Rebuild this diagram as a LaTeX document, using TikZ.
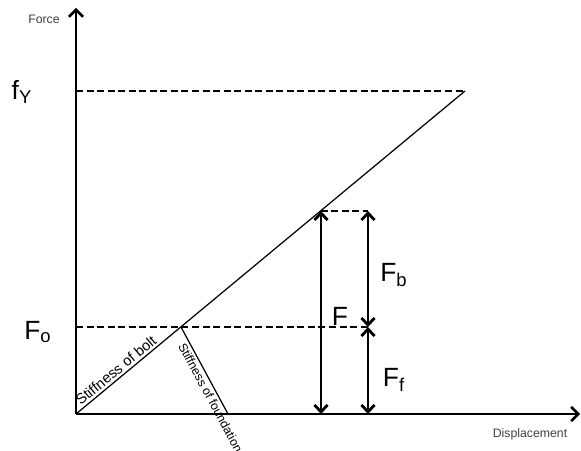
\documentclass[tikz,border=0pt]{standalone}
\usepackage{fontspec}
\setmainfont{Liberation Sans}
\usepackage{tikz}
\usetikzlibrary{arrows.meta, positioning, calc}

\tikzset{
  axisline/.style={line width=1.5pt, -{Straight Barb[length=4pt,width=8pt,line width=1.5pt]}},
  forcearrow/.style={line width=1.6pt, {Straight Barb[length=4pt,width=7.5pt,line width=1.6pt]}-{Straight Barb[length=4pt,width=7.5pt,line width=1.6pt]}},
  guide/.style={line width=0.6pt, dash pattern=on 4pt off 2pt},
  stiff/.style={line width=0.7pt},
  biglabel/.style={font=\fontsize{15}{17}\selectfont, inner sep=0pt},
  smalllabel/.style={font=\fontsize{7}{8}\selectfont, text=black!75, inner sep=0pt}
}

\begin{document}
\begin{tikzpicture}[x=0.02cm, y=0.02cm]
  % frame = 581 x 450 px
  \useasboundingbox (0,0) rectangle (581,450);
  % key points (px, measured from bottom left)
  \coordinate (O) at (76,36);
  \coordinate (ytop) at (76,442);
  \coordinate (xend) at (580,36);
  \coordinate (yield) at (465,359);
  \coordinate (fyaxis) at (76,359);
  \coordinate (knee) at (181,123);
  \coordinate (foaxis) at (76,123);
  \coordinate (footend) at (228,36);
  \coordinate (load) at (320.5,239);
  \coordinate (Ftop) at (321,239);
  \coordinate (Fbot) at (321,36);
  \coordinate (bolttop) at (368,239);
  \coordinate (boltmid) at (368,123);
  \coordinate (boltbot) at (368,36);
  % axes
  \draw[axisline] (O) -- (ytop);
  \draw[axisline] (O) -- (xend);
  % dashed guides
  \draw[guide] (fyaxis) -- (yield);
  \draw[guide] (foaxis) -- (boltmid);
  \draw[guide] (load) -- (bolttop);
  % stiffness lines, labels sloped along them
  \draw[stiff] (O) -- (yield);
  \draw[stiff] (knee) -- (footend);
  \path (O) -- (knee) node[pos=0.43, sloped, above=1.5pt, inner sep=0pt,
    font=\fontsize{8.3}{9}\selectfont] (kbolt) {Stiffness of bolt};
  \path (knee) -- (footend) node[pos=0.77, sloped, below=1.5pt, inner sep=0pt,
    font=\fontsize{7}{8}\selectfont] (kfound) {Stiffness of foundation};
  % force arrows
  \draw[forcearrow] (Ftop) -- (Fbot);
  \draw[forcearrow] (bolttop) -- (boltmid);
  \draw[forcearrow] (boltmid) -- (boltbot);
  % labels
  \node[smalllabel] (force) at (44,431) {Force};
  \node[smalllabel] (disp) at (530,16) {Displacement};
  \node[biglabel] (fy) at (22,358) {f\textsubscript{Y}};
  \node[biglabel] (fo) at (38,118) {F\textsubscript{o}};
  \node[biglabel] (Flab) at (340,134) {F};
  \node[biglabel] (Fb) at (394,175) {F\textsubscript{b}};
  \node[biglabel] (Ff) at (394,70) {F\textsubscript{f}};
\end{tikzpicture}
\end{document}
